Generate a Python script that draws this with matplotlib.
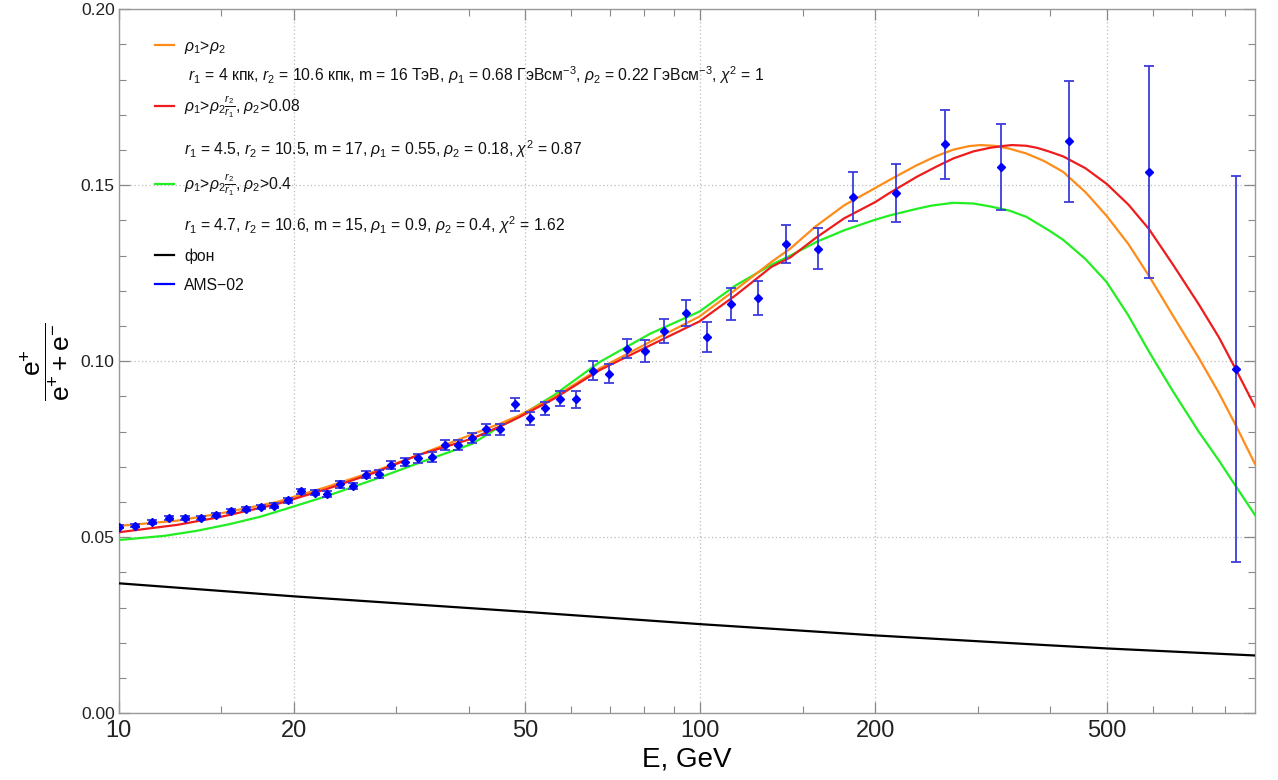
import matplotlib
matplotlib.use('Agg')
import matplotlib.pyplot as plt
from matplotlib.ticker import FixedLocator, NullFormatter, MultipleLocator

plt.rcParams['font.family'] = ['Liberation Sans', 'DejaVu Sans']
plt.rcParams['mathtext.fontset'] = 'custom'
plt.rcParams['mathtext.rm'] = 'Liberation Sans'
plt.rcParams['mathtext.it'] = 'Liberation Sans:italic'

# ── AMS-02 positron fraction ──
ams_E = [10.02, 10.68, 11.42, 12.20, 13.01, 13.83, 14.69, 15.61, 16.53, 17.54,
         18.49, 19.57, 20.57, 21.73, 22.84, 24.01, 25.25, 26.61, 27.98, 29.42,
         31.02, 32.69, 34.52, 36.39, 38.36, 40.54, 42.80, 45.29, 48.07, 50.94,
         54.07, 57.43, 61.21, 65.39, 69.66, 74.79, 80.41, 86.71, 94.38, 102.8,
         112.9, 125.5, 140.6, 159.2, 183.5, 217.0, 263.6, 328.9, 431.7, 591.0,
         834.2]
ams_frac = [0.0530, 0.0533, 0.0543, 0.0555, 0.0555, 0.0555, 0.0562, 0.0574, 0.0580, 0.0586,
            0.0590, 0.0605, 0.0631, 0.0626, 0.0623, 0.0650, 0.0646, 0.0677, 0.0679, 0.0705,
            0.0713, 0.0724, 0.0728, 0.0762, 0.0762, 0.0782, 0.0806, 0.0806, 0.0877, 0.0838,
            0.0866, 0.0894, 0.0892, 0.0973, 0.0964, 0.1036, 0.1030, 0.1086, 0.1137, 0.1068,
            0.1162, 0.1179, 0.1332, 0.1320, 0.1467, 0.1477, 0.1616, 0.1551, 0.1625, 0.1537,
            0.0978]
ams_err = [0.0005, 0.0005, 0.0005, 0.0005, 0.0005, 0.0006, 0.0006, 0.0006, 0.0006, 0.0006,
           0.0007, 0.0007, 0.0007, 0.0007, 0.0008, 0.0009, 0.0009, 0.0010, 0.0011, 0.0011,
           0.0012, 0.0012, 0.0013, 0.0014, 0.0014, 0.0015, 0.0016, 0.0017, 0.0019, 0.0019,
           0.0019, 0.0021, 0.0024, 0.0027, 0.0027, 0.0028, 0.0031, 0.0034, 0.0038, 0.0042,
           0.0045, 0.0048, 0.0054, 0.0059, 0.0070, 0.0082, 0.0099, 0.0122, 0.0172, 0.0302,
           0.0549]

# ── model curves ──
orange_E = [10, 12.6, 14.9, 18.7, 22.8, 27.5, 32.7, 38.5, 45.3, 48.7, 56, 67.2, 82, 99.7,
            115, 132.6, 142.9, 158, 176.9, 200, 211.7, 235.9, 255, 272.5, 290, 303.4, 320,
            340, 364, 390, 420.8, 460, 500, 545, 591, 650, 720, 780, 834, 900]
orange_y = [0.0532, 0.0547, 0.0567, 0.0600, 0.0643, 0.0687, 0.0733, 0.0778, 0.0823, 0.0845,
            0.0897, 0.0980, 0.1055, 0.1127, 0.1203, 0.1282, 0.1320, 0.1383, 0.1443, 0.1492,
            0.1515, 0.1557, 0.1583, 0.1601, 0.1611, 0.1614, 0.1612, 0.1604, 0.1590, 0.1569,
            0.1538, 0.1480, 0.1413, 0.1333, 0.1243, 0.1130, 0.1010, 0.0910, 0.0818, 0.0708]

red_E = [10, 12.6, 14.9, 18.7, 22.8, 27.5, 32.7, 40.5, 45.3, 48.7, 56, 67.2, 82, 99.7,
         115, 132.6, 142.9, 158, 176.9, 200, 211.7, 235.9, 255, 272.5, 295, 314.6, 330,
         343.5, 364, 380, 397.6, 420.8, 460, 500, 545, 591, 650, 720, 780, 834, 900]
red_y = [0.0514, 0.0535, 0.0557, 0.0594, 0.0637, 0.0683, 0.0733, 0.0780, 0.0815, 0.0840,
         0.0893, 0.0975, 0.1045, 0.1113, 0.1187, 0.1268, 0.1295, 0.1350, 0.1406, 0.1452,
         0.1478, 0.1524, 0.1553, 0.1576, 0.1596, 0.1606, 0.1611, 0.1614, 0.1612, 0.1606,
         0.1596, 0.1582, 0.1548, 0.1504, 0.1445, 0.1376, 0.1275, 0.1162, 0.1068, 0.0977,
         0.0871]

green_E = [10, 12, 13.6, 15.5, 17.5, 19.7, 22.8, 27.5, 32.7, 40.5, 45.3, 48.7, 56, 67.2,
           82, 99.7, 115, 132.6, 142.9, 159, 176.9, 200, 211.7, 235.9, 250, 272.5, 295,
           314.6, 340, 364, 397.6, 420.8, 460, 500, 545, 591, 650, 720, 780, 834, 900]
green_y = [0.0492, 0.0504, 0.0518, 0.0537, 0.0558, 0.0584, 0.0617, 0.0664, 0.0710, 0.0765,
           0.0815, 0.0842, 0.0903, 0.0998, 0.1078, 0.1141, 0.1215, 0.1274, 0.1300, 0.1340,
           0.1372, 0.1402, 0.1414, 0.1433, 0.1442, 0.1450, 0.1448, 0.1440, 0.1428, 0.1410,
           0.1372, 0.1345, 0.1290, 0.1225, 0.1130, 0.1028, 0.0915, 0.0800, 0.0718, 0.0645,
           0.0563]

bg_E = [10, 20, 50, 100, 200, 397.6, 500, 900]
bg_y = [0.0369, 0.0332, 0.0288, 0.0253, 0.0221, 0.0193, 0.0184, 0.0164]

x_major = [10, 20, 50, 100, 200, 500]
x_minor = [15, 30, 40, 60, 70, 80, 90, 150, 300, 400, 600, 700, 800]
y_major = [0.00, 0.05, 0.10, 0.15, 0.20]

legend_rows = [
    ('#ff8c1a', r'$\rho_1$>$\rho_2$'),
    (None, r' $r_1$ = 4 кпк, $r_2$ = 10.6 кпк, m = 16 ТэВ, $\rho_1$ = 0.68 ГэВсм$^{-3}$, '
           r'$\rho_2$ = 0.22 ГэВсм$^{-3}$, $\chi^2$ = 1'),
    ('#ee1c1c', r'$\rho_1$>$\rho_2\frac{r_2}{r_1}$, $\rho_2$>0.08'),
    (None, r'$r_1$ = 4.5, $r_2$ = 10.5, m = 17, $\rho_1$ = 0.55, $\rho_2$ = 0.18, $\chi^2$ = 0.87'),
    ('#22ee22', r'$\rho_1$>$\rho_2\frac{r_2}{r_1}$, $\rho_2$>0.4'),
    (None, r'$r_1$ = 4.7, $r_2$ = 10.6, m = 15, $\rho_1$ = 0.9, $\rho_2$ = 0.4, $\chi^2$ = 1.62'),
    ('black', 'фон'),
    ('#0000ff', 'AMS\u221202'),
]
# row centre heights in pixels from the top of the figure
legend_px = [45, 76, 106, 149, 184, 225, 255, 284]

C_OR, C_RED, C_GR, C_BLUE = '#ff8c1a', '#ee1c1c', '#22ee22', '#0000ff'

fig = plt.figure(figsize=(12.78, 7.8), dpi=100, facecolor='white')
Y0, Y1 = 713.2, 9.2
ax = fig.add_axes([118.8 / 1278, 1 - Y0 / 780, (1255 - 118.8) / 1278, (Y0 - Y1) / 780])

ax.plot(bg_E, bg_y, color='black', lw=1.6, zorder=3)
ax.plot(green_E, green_y, color=C_GR, lw=1.6, zorder=3)
ax.plot(orange_E, orange_y, color=C_OR, lw=1.6, zorder=3)
ax.plot(red_E, red_y, color=C_RED, lw=1.6, zorder=3)
ax.errorbar(ams_E, ams_frac, yerr=ams_err, fmt='D', ms=4.5, color=C_BLUE,
            ecolor='#3c3cdc', elinewidth=1.3, capsize=3.8, capthick=1.3, zorder=4)

ax.set_xscale('log')
ax.set_xlim(10, 900)
ax.set_ylim(0, 0.20)

ax.xaxis.set_major_locator(FixedLocator(x_major))
ax.xaxis.set_minor_locator(FixedLocator(x_minor))
ax.xaxis.set_minor_formatter(NullFormatter())
ax.set_xticklabels([str(v) for v in x_major], fontsize=17)
ax.yaxis.set_minor_locator(MultipleLocator(0.01))
ax.set_yticks(y_major)
ax.set_yticklabels([f'{v:.2f}' for v in y_major], fontsize=12.5)

ax.tick_params(which='both', direction='in', top=True, right=True, color='#888888')
ax.tick_params(which='major', length=8, width=0.9)
ax.tick_params(which='minor', length=5, width=0.8)
ax.tick_params(axis='x', which='major', pad=5, labelcolor='#222222')
ax.tick_params(axis='y', which='major', pad=3, labelcolor='#222222')
for s in ax.spines.values():
    s.set_color('#999999')
    s.set_linewidth(1.0)

ax.grid(which='major', color='#bbbbbb', ls=(0, (1, 2)), lw=0.9)

ax.set_xlabel('E, GeV', fontsize=20, labelpad=3)
ax.set_ylabel(r'$\dfrac{\mathrm{e}^{+}}{\mathrm{e}^{+}+\mathrm{e}^{-}}$', fontsize=19)
ax.yaxis.set_label_coords(-0.041, 0.5)

# ── hand-built legend (rows of uneven height, like the original) ──
def ax_y(px):
    return (Y0 - px) / (Y0 - Y1)

def ax_x(px):
    return (px - 118.8) / (1255 - 118.8)

for (col, txt), py in zip(legend_rows, legend_px):
    if col is not None:
        ax.plot([ax_x(155), ax_x(174)], [ax_y(py), ax_y(py)], color=col, lw=1.6,
                transform=ax.transAxes, clip_on=False, zorder=5)
    ax.text(ax_x(184), ax_y(py + 5.5), txt, transform=ax.transAxes, fontsize=11.3,
            ha='left', va='baseline', color='#111111', zorder=5)

fig.savefig('out.png', dpi=100, facecolor='white')
